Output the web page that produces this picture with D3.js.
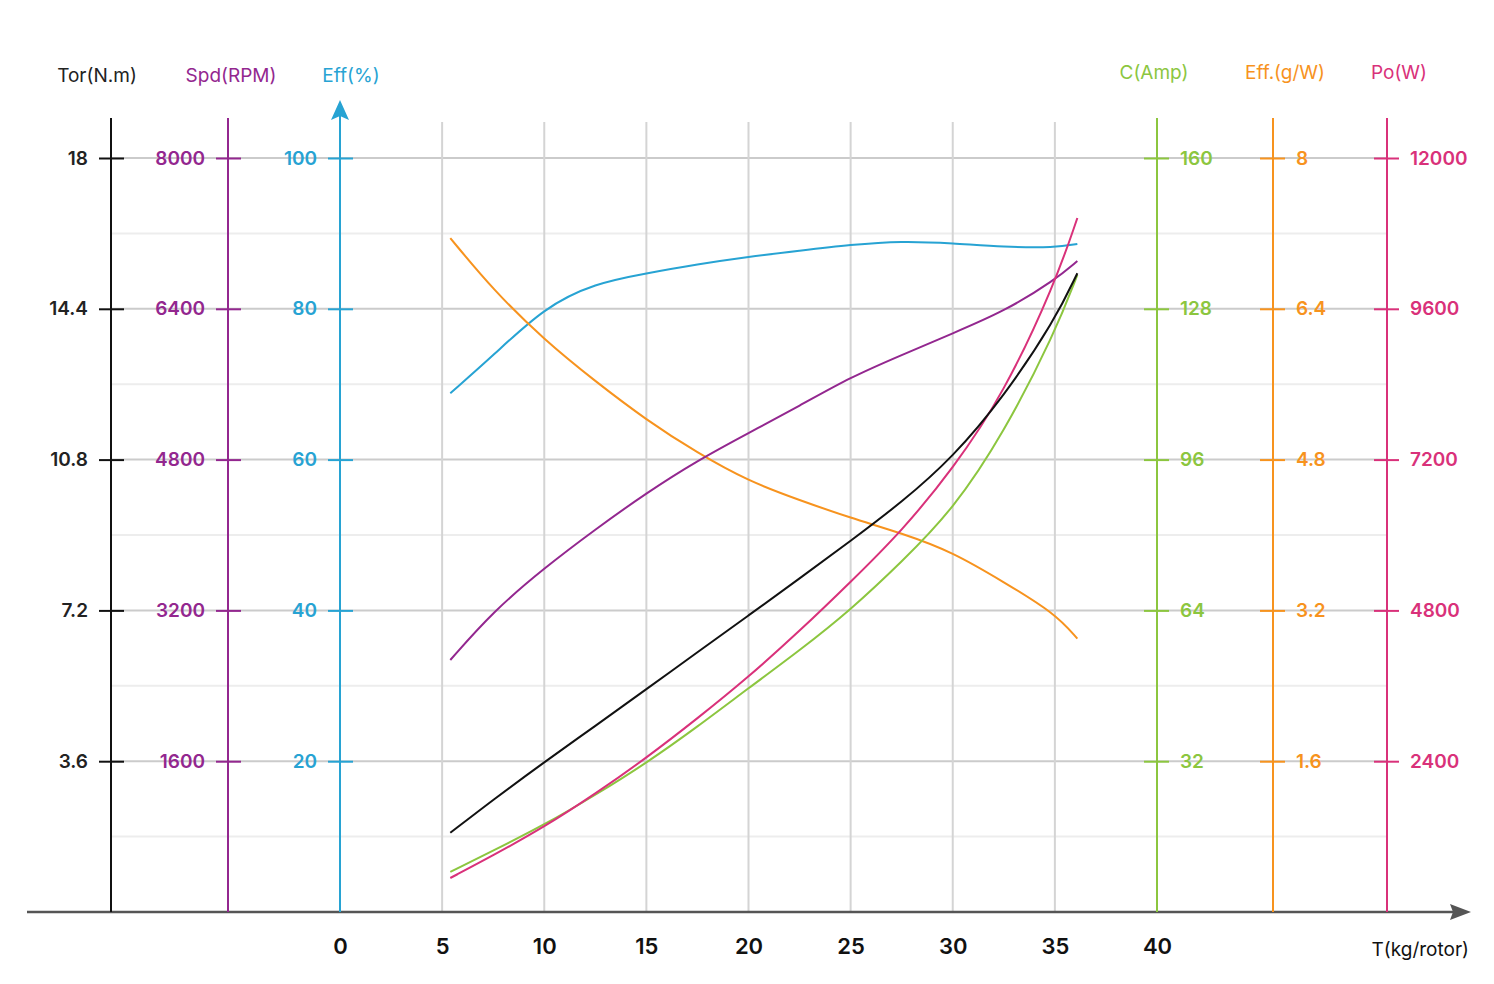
<!DOCTYPE html>
<meta charset="utf-8">
<script src="https://d3js.org/d3.v7.min.js"></script>
<style>
  body { margin: 0; background: #fff; }
  text { font-family: Inter, "Noto Sans", sans-serif; }
</style>
<div id="chart"></div>
<script>
// thrust samples (kg/rotor)
const thrust = [5.4, 7.5, 10, 12.5, 15, 17.5, 20, 22.5, 25, 27.5, 30, 32.5, 35, 36.1];
const torque = [1.89, 2.68, 3.58, 4.44, 5.32, 6.2, 7.08, 7.96, 8.86, 9.78, 10.85, 12.3, 14.13, 15.25];
const speed = [2674, 3190, 3650, 4060, 4446, 4790, 5082, 5370, 5676, 5910, 6140, 6370, 6705, 6907];
const effPct = [68.8, 73.8, 80.2, 83.4, 84.7, 85.9, 86.9, 87.7, 88.5, 89.0, 88.7, 88.2, 88.1, 88.6];
const current = [8.5, 13, 18.5, 24.8, 31.6, 39.3, 47.5, 55.5, 64.1, 74.3, 85.3, 101.6, 122.9, 135.2];
const effGW = [7.15, 6.6, 6.07, 5.63, 5.22, 4.87, 4.57, 4.37, 4.18, 4.02, 3.82, 3.5, 3.17, 2.9];
const power = [541, 900, 1353, 1880, 2451, 3080, 3740, 4470, 5252, 6060, 7050, 8250, 10000, 11045];

// tick labels
const xTicks = [0, 5, 10, 15, 20, 25, 30, 35, 40];
const torTicks = [3.6, 7.2, 10.8, 14.4, 18];
const spdTicks = [1600, 3200, 4800, 6400, 8000];
const effTicks = [20, 40, 60, 80, 100];
const curTicks = [32, 64, 96, 128, 160];
const gwTicks = [1.6, 3.2, 4.8, 6.4, 8];
const powTicks = [2400, 4800, 7200, 9600, 12000];

const W = 1494, H = 984;
const y0 = 912, yTop = 158, axisTop = 118;

const svg = d3.select("#chart").append("svg")
  .attr("width", W).attr("height", H);

const x = d3.scaleLinear().domain([0, 40]).range([340, 1157]);
const yTor = d3.scaleLinear().domain([0, 18]).range([y0, yTop]);
const ySpd = d3.scaleLinear().domain([0, 8000]).range([y0, yTop]);
const yEff = d3.scaleLinear().domain([0, 100]).range([y0, yTop]);
const yCur = d3.scaleLinear().domain([0, 160]).range([y0, yTop]);
const yGW = d3.scaleLinear().domain([0, 8]).range([y0, yTop]);
const yPow = d3.scaleLinear().domain([0, 12000]).range([y0, yTop]);

const axes = [
  {title: "Tor(N.m)", ticks: torTicks, y: yTor, pos: 111, side: "left", color: "#111111", lab: "#222222", tx: 97, ty: 82},
  {title: "Spd(RPM)", ticks: spdTicks, y: ySpd, pos: 228, side: "left", color: "#93278f", lab: "#93278f", tx: 231, ty: 82},
  {title: "Eff(%)", ticks: effTicks, y: yEff, pos: 340, side: "left", color: "#27a3d3", lab: "#27a3d3", tx: 351, ty: 82},
  {title: "C(Amp)", ticks: curTicks, y: yCur, pos: 1157, side: "right", color: "#8cc63f", lab: "#8cc63f", tx: 1154, ty: 79},
  {title: "Eff.(g/W)", ticks: gwTicks, y: yGW, pos: 1273, side: "right", color: "#f7931e", lab: "#f7931e", tx: 1285, ty: 79},
  {title: "Po(W)", ticks: powTicks, y: yPow, pos: 1387, side: "right", color: "#d9317a", lab: "#d9317a", tx: 1399, ty: 79}
];

// minor grid lines (between major)
const minor = torTicks.map(d => d - 1.8);
svg.append("g").selectAll("line").data(minor).join("line")
  .attr("x1", 111).attr("x2", 1387)
  .attr("y1", d => yTor(d)).attr("y2", d => yTor(d))
  .attr("stroke", "#ededed").attr("stroke-width", 2);

// major horizontal grid
svg.append("g").selectAll("line").data(torTicks).join("line")
  .attr("x1", 111).attr("x2", 1387)
  .attr("y1", d => yTor(d)).attr("y2", d => yTor(d))
  .attr("stroke", "#cbcbcb").attr("stroke-width", 2);

// vertical grid
svg.append("g").selectAll("line").data(xTicks.filter(d => d > 0 && d < 40)).join("line")
  .attr("x1", d => x(d)).attr("x2", d => x(d))
  .attr("y1", 122).attr("y2", y0)
  .attr("stroke", "#d4d4d4").attr("stroke-width", 2);

// x axis with arrow
svg.append("line")
  .attr("x1", 27).attr("x2", 1458).attr("y1", y0).attr("y2", y0)
  .attr("stroke", "#555").attr("stroke-width", 2.5);
svg.append("path")
  .attr("d", `M1471,${y0} L1450,${y0 - 8} L1453,${y0} L1450,${y0 + 8} Z`)
  .attr("fill", "#555");

const xAxis = svg.append("g")
  .attr("transform", `translate(0,${y0})`)
  .call(d3.axisBottom(x).tickValues(xTicks).tickSize(0).tickPadding(26));
xAxis.select(".domain").remove();
xAxis.selectAll("text")
  .style("font-family", "Inter, sans-serif")
  .style("font-size", "22px").style("font-weight", 600).attr("fill", "#111");

svg.append("text")
  .attr("x", 1469).attr("y", 956).attr("text-anchor", "end")
  .style("font-size", "19px").attr("fill", "#111")
  .text("T(kg/rotor)");

// vertical axes
axes.forEach(a => {
  const gen = (a.side === "left" ? d3.axisLeft(a.y) : d3.axisRight(a.y))
    .tickValues(a.ticks).tickFormat(d => String(d))
    .tickSize(12).tickPadding(11);
  const g = svg.append("g").attr("transform", `translate(${a.pos},0)`).call(gen);
  g.select(".domain").remove();
  g.selectAll(".tick line")
    .attr("stroke", a.color).attr("stroke-width", 2)
    .attr("x1", a.side === "left" ? 13 : -13);
  g.selectAll(".tick text")
    .style("font-family", "Inter, sans-serif")
    .style("font-size", "19px").style("font-weight", 600)
    .attr("fill", a.lab);
  g.append("line")
    .attr("x1", 0).attr("x2", 0)
    .attr("y1", a.title === "Eff(%)" ? 112 : axisTop).attr("y2", y0)
    .attr("stroke", a.color).attr("stroke-width", 2);
  svg.append("text")
    .attr("x", a.tx).attr("y", a.ty).attr("text-anchor", "middle")
    .style("font-size", "19px").attr("fill", a.lab)
    .text(a.title);
});

// arrow on Eff(%) axis
svg.append("path")
  .attr("d", "M340,100 L331,120 L340,116 L349,120 Z")
  .attr("fill", "#27a3d3");

// curves
const series = [
  {vals: effPct, y: yEff, color: "#27a3d3"},
  {vals: effGW, y: yGW, color: "#f7931e"},
  {vals: speed, y: ySpd, color: "#93278f"},
  {vals: current, y: yCur, color: "#8cc63f"},
  {vals: power, y: yPow, color: "#d9317a"},
  {vals: torque, y: yTor, color: "#111111"}
];

series.forEach(s => {
  const line = d3.line()
    .x((d, i) => x(thrust[i]))
    .y(d => s.y(d))
    .curve(d3.curveBasis);
  svg.append("path")
    .datum(s.vals)
    .attr("d", line)
    .attr("fill", "none")
    .attr("stroke", s.color)
    .attr("stroke-width", 2);
});
</script>
